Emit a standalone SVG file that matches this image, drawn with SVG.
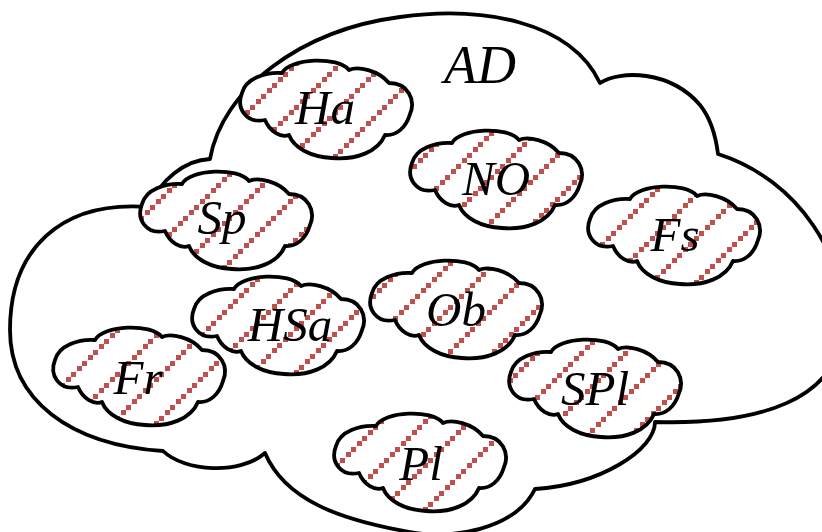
<svg xmlns="http://www.w3.org/2000/svg" xmlns:xlink="http://www.w3.org/1999/xlink" width="822" height="532" viewBox="0 0 822 532">
<style>
.outline{fill:#fff;stroke:#000;stroke-width:3.8;stroke-linejoin:round}
.cl{stroke:#000;stroke-width:3.8;stroke-linejoin:round}
.lbl{font-family:"Liberation Serif","Times New Roman",serif;font-style:italic;font-size:49px;fill:#000;text-anchor:middle}
.big{font-size:54px}
</style>
<defs>
<path id="cloud" d="M -61,10 C -80,14 -90,-2 -84,-17 C -80,-32 -60,-38 -44,-37 C -36,-52 12,-54 23,-40 C 32,-44 52,-40 63,-27 C 82,-27 90,-10 84,4 C 80,18 70,26 59,25 C 52,42 30,50 6,48 C -15,47 -32,38 -37,25 C -45,28 -56,22 -61,10 Z"/>
<pattern id="hatch" patternUnits="userSpaceOnUse" width="44" height="44">
<rect width="44" height="44" fill="#fff"/>
<path fill="#c0504d" d="M0,39h5v5h-5z M6,33h5v5h-5z M11,28h5v5h-5z M17,22h5v5h-5z M22,17h5v5h-5z M28,11h5v5h-5z M33,6h5v5h-5z M39,0h5v5h-5z"/>
</pattern>
<pattern id="pHa" href="#hatch" x="12"/>
<pattern id="pNO" href="#hatch" x="37"/>
<pattern id="pSp" href="#hatch" x="1"/>
<pattern id="pFs" href="#hatch" x="25"/>
<pattern id="pHSa" href="#hatch" x="21"/>
<pattern id="pOb" href="#hatch" x="36"/>
<pattern id="pFr" href="#hatch" x="20"/>
<pattern id="pSPl" href="#hatch" x="39"/>
<pattern id="pPl" href="#hatch" x="8"/>
</defs>
<g id="AD">
<path class="outline" d="M 210,159 C 222,90 300,30 400,17 C 480,6 570,20 600,83 C 620,70 670,70 700,105 C 712,120 716,138 718,154 C 800,180 848,260 843,328 C 838,400 760,425 655,422 C 655,450 600,485 535,489 C 515,530 450,540 410,532 C 340,520 285,500 265,453 C 240,475 185,472 163,451 C 70,445 10,400 10,330 C 10,250 60,200 149,207 C 160,180 185,160 210,159 Z"/>
<text class="lbl big" x="480" y="83">AD</text>
</g>
<g id="connectors"></g>
<g id="Ha" transform="translate(326,110)"><use href="#cloud" class="cl" fill="url(#pHa)"/><text class="lbl" x="-1" y="14">Ha</text></g>
<g id="NO" transform="translate(496,180)"><use href="#cloud" class="cl" fill="url(#pNO)"/><text class="lbl" x="0" y="15">NO</text></g>
<g id="Sp" transform="translate(226,221)"><use href="#cloud" class="cl" fill="url(#pSp)"/><text class="lbl" x="-4" y="13">Sp</text></g>
<g id="Fs" transform="translate(674,236)"><use href="#cloud" class="cl" fill="url(#pFs)"/><text class="lbl" x="1" y="15">Fs</text></g>
<g id="HSa" transform="translate(278,326)"><use href="#cloud" class="cl" fill="url(#pHSa)"/><text class="lbl" x="12" y="15">HSa</text></g>
<g id="Ob" transform="translate(456,310)"><use href="#cloud" class="cl" fill="url(#pOb)"/><text class="lbl" x="0" y="16">Ob</text></g>
<g id="Fr" transform="translate(139,377)"><use href="#cloud" class="cl" fill="url(#pFr)"/><text class="lbl" x="-1" y="17">Fr</text></g>
<g id="SPl" transform="translate(595,389)"><use href="#cloud" class="cl" fill="url(#pSPl)"/><text class="lbl" x="0" y="16">SPl</text></g>
<g id="Pl" transform="translate(420,463)"><use href="#cloud" class="cl" fill="url(#pPl)"/><text class="lbl" x="1" y="17">Pl</text></g>
</svg>
